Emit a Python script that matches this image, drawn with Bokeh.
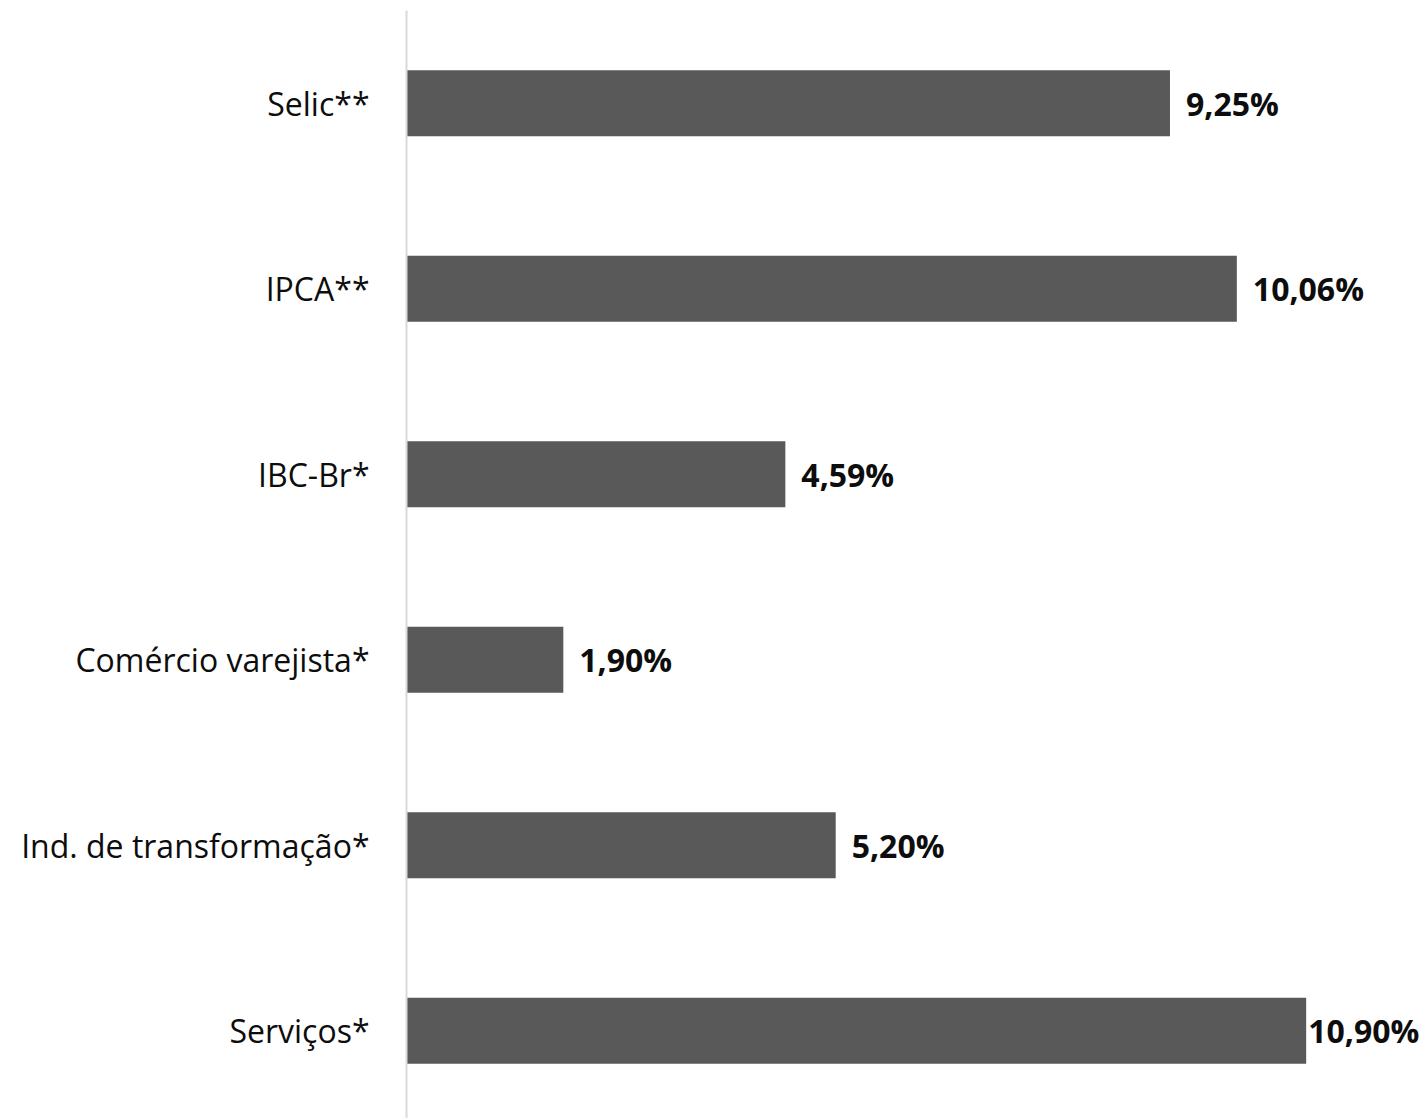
from bokeh.plotting import figure
from bokeh.models import ColumnDataSource, Range1d, FixedTicker
from bokeh.core.properties import value
from bokeh.embed import file_html
from bokeh.resources import INLINE

categories = ["Selic**", "IPCA**", "IBC-Br*", "Comércio varejista*", "Ind. de transformação*", "Serviços*"]
values = [9.25, 10.06, 4.59, 1.90, 5.20, 10.90]
value_labels = ["9,25%", "10,06%", "4,59%", "1,90%", "5,20%", "10,90%"]
label_offsets = [16, 16, 16, 16, 16, 2]

n = len(categories)
ypos = [n - 1 - i for i in range(n)]

src = ColumnDataSource(dict(y=ypos, v=values, lab=value_labels, off=label_offsets, cat=categories))

FONT = "Open Sans"

p = figure(width=1427, height=1118, output_backend="svg", toolbar_location=None,
           x_range=Range1d(0, 12.37), y_range=Range1d(-0.473, 5.5),
           min_border_left=406, min_border_right=0, min_border_top=10, min_border_bottom=0)
p.outline_line_color = None
p.xgrid.visible = False
p.ygrid.visible = False
p.xaxis.visible = False
p.background_fill_color = "white"
p.border_fill_color = "white"

p.hbar(y="y", right="v", left=0, height=0.356, source=src, fill_color="#595959", line_color=None)

p.text(x="v", y="y", text="lab", source=src, x_offset="off", text_align="left", text_baseline="middle",
       text_font=value(FONT), text_font_style="bold", text_font_size="32px", text_color="#0d0d0d")

ax = p.yaxis[0]
ax.ticker = FixedTicker(ticks=ypos)
ax.major_label_overrides = {y: c for y, c in zip(ypos, categories)}
ax.axis_line_color = "#d9d9d9"
ax.axis_line_width = 2
ax.major_tick_line_color = None
ax.minor_tick_line_color = None
ax.major_tick_out = 0
ax.major_tick_in = 0
ax.major_label_standoff = 37
ax.major_label_text_font = FONT
ax.major_label_text_font_size = "32px"
ax.major_label_text_color = "#0d0d0d"

open("out.html", "w").write(file_html(p, INLINE))
